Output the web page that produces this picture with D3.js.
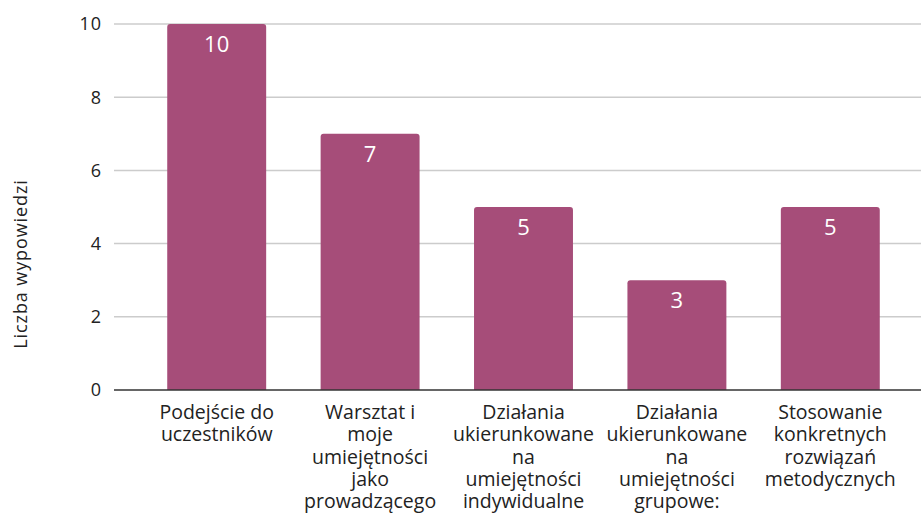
<!DOCTYPE html>
<html>
<head>
<meta charset="utf-8">
<script src="https://cdn.jsdelivr.net/npm/d3@7"></script>
<style>
  body { margin: 0; background: #fff; }
  text { font-family: "Open Sans", "Noto Sans", sans-serif; }
</style>
</head>
<body>
<div id="chart-area"></div>
<script>
const categories = [
    ["Podejście do", "uczestników"],
    ["Warsztat i", "moje", "umiejętności", "jako", "prowadzącego"],
    ["Działania", "ukierunkowane", "na", "umiejętności", "indywidualne"],
    ["Działania", "ukierunkowane", "na", "umiejętności", "grupowe:"],
    ["Stosowanie", "konkretnych", "rozwiązań", "metodycznych"]
];
const values = [10, 7, 5, 3, 5];
const yTicks = [0, 2, 4, 6, 8, 10];

const width = 921;
const height = 514;

const svg = d3.select("#chart-area")
    .append("svg")
    .attr("width", width)
    .attr("height", height);

const x = d3.scaleBand()
    .domain(d3.range(values.length))
    .range([140, 907])
    .paddingInner(0.355)
    .paddingOuter(0.1775);

const y = d3.scaleLinear()
    .domain([0, 10])
    .range([390, 24]);

// grid lines
svg.append("g")
    .selectAll("line")
    .data(yTicks.filter(d => d > 0))
    .enter().append("line")
    .attr("x1", 114)
    .attr("x2", width)
    .attr("y1", d => y(d))
    .attr("y2", d => y(d))
    .attr("stroke", "#cccccc")
    .attr("stroke-width", 1.5);

// y tick labels
svg.append("g")
    .selectAll("text")
    .data(yTicks)
    .enter().append("text")
    .attr("x", 102)
    .attr("y", d => y(d))
    .attr("dy", "0.35em")
    .attr("text-anchor", "end")
    .attr("font-size", 18)
    .attr("letter-spacing", 1)
    .attr("fill", "#222")
    .text(d => d);

// y axis title
svg.append("text")
    .attr("transform", "translate(27, 264) rotate(-90)")
    .attr("text-anchor", "middle")
    .attr("font-size", 18)
    .attr("letter-spacing", 0.9)
    .attr("fill", "#222")
    .text("Liczba wypowiedzi");

// bars
svg.append("g")
    .selectAll("path")
    .data(values)
    .enter().append("path")
    .attr("fill", "#a64d79")
    .attr("d", (d, i) => {
        const x0 = x(i), w = x.bandwidth(), top = y(d), bot = y(0), r = 3;
        return `M${x0},${bot}V${top + r}Q${x0},${top} ${x0 + r},${top}` +
            `H${x0 + w - r}Q${x0 + w},${top} ${x0 + w},${top + r}V${bot}Z`;
    });

// value labels
svg.append("g")
    .selectAll("text")
    .data(values)
    .enter().append("text")
    .attr("x", (d, i) => x(i) + x.bandwidth() / 2)
    .attr("y", d => y(d) + 28)
    .attr("text-anchor", "middle")
    .attr("font-family", "Roboto, sans-serif")
    .attr("font-size", 22)
    .attr("fill", "#fff")
    .text(d => d);

// baseline
svg.append("line")
    .attr("x1", 114)
    .attr("x2", width)
    .attr("y1", y(0))
    .attr("y2", y(0))
    .attr("stroke", "#333")
    .attr("stroke-width", 1.5);

// category labels
const cat = svg.append("g")
    .selectAll("text")
    .data(categories)
    .enter().append("text")
    .attr("text-anchor", "middle")
    .attr("font-size", 19.5)
    .attr("fill", "#222");

cat.selectAll("tspan")
    .data((d, i) => d.map(line => ({ line, i })))
    .enter().append("tspan")
    .attr("x", d => x(d.i) + x.bandwidth() / 2)
    .attr("y", (d, j) => 419 + j * 22.3)
    .text(d => d.line);
</script>
</body>
</html>
